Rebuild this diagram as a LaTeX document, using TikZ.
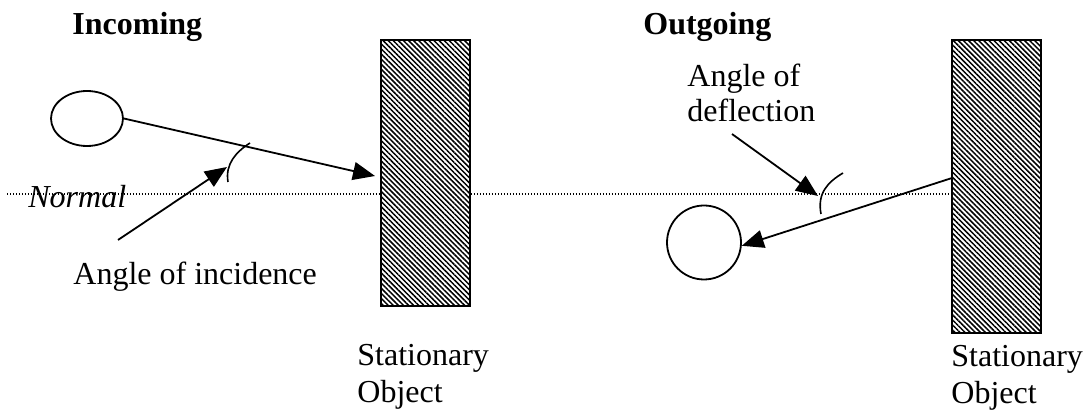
\documentclass[tikz,border=0pt]{standalone}
\usepackage{fontspec}
\setmainfont{Liberation Serif}
\usetikzlibrary{shapes.geometric, arrows.meta, patterns.meta}

\begin{document}
\begin{tikzpicture}[
    x=0.5pt, y=-0.5pt,
    ball/.style={draw, line width=0.9pt, inner sep=0pt},
    wall/.style={draw, line width=0.9pt, inner sep=0pt, minimum width=44.5pt,
        pattern={Lines[angle=-45, distance=1.8pt, line width=0.75pt]}},
    lbl/.style={anchor=base west, inner sep=0pt, align=left, font=\fontsize{16}{18.5}\selectfont},
    ttl/.style={lbl, font=\fontsize{16}{18.5}\selectfont\bfseries},
    arr/.style={line width=0.9pt, -{Triangle[length=11pt, width=9pt]}},
    anglemark/.style={line width=0.8pt},
    normline/.style={line width=0.7pt, dash pattern=on 0.6pt off 0.9pt},
]
    \useasboundingbox (0,0) rectangle (1083,411);

    % Incoming side
    \node[ttl] (tin) at (72,35) {Incoming};
    \node[ball, ellipse, minimum width=36pt, minimum height=27.5pt] (lball) at (87,118.5) {};
    \node[wall, minimum height=133pt] (lwall) at (425.5,173) {};
    \node[lbl] (lobj) at (357,403) {Stationary\\Object};
    \node[lbl, font=\fontsize{16}{18.5}\selectfont\itshape] (nrm) at (28,208) {Normal};
    \node[lbl] (linc) at (73,285) {Angle of incidence};

    % Outgoing side
    \node[ttl] (tout) at (643,35) {Outgoing};
    \node[ball, circle, minimum size=37pt] (rball) at (704,242.5) {};
    \node[wall, minimum height=146.5pt] (rwall) at (996.5,186.5) {};
    \node[lbl] (robj) at (951,404) {Stationary\\Object};
    \node[lbl] (ldef) at (687,122) {Angle of\\[-1pt]deflection};

    % normal line
    \coordinate (nstart) at (7,194);
    \draw[normline] (nstart) -- (nstart -| lwall.west)
        (nstart -| lwall.east) -- (nstart -| rwall.west);

    % paths of the ball
    \coordinate (hitL) at (375,176);
    \coordinate (hitR) at (952,178);
    \draw[arr] (lball.east) -- (hitL);
    \draw[arr] (hitR) -- (rball.-5);

    % angle marks and pointers
    \draw[anglemark] (250,143) .. controls (236,152) and (225,164) .. (228,182);
    \draw[anglemark] (843,173) .. controls (828,182) and (817,193) .. (821,214);
    \coordinate (pinc) at (118,240);
    \coordinate (tinc) at (227,167);
    \coordinate (pdef) at (732,134);
    \coordinate (tdef) at (818,196);
    \draw[arr] (pinc) -- (tinc);
    \draw[arr] (pdef) -- (tdef);
\end{tikzpicture}
\end{document}
